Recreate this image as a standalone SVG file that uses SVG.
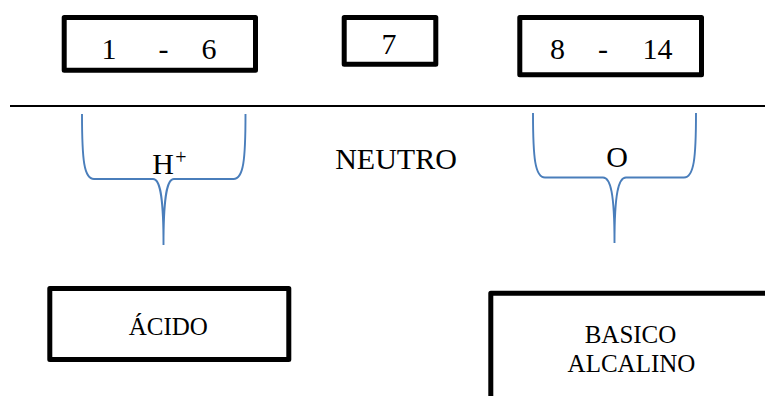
<svg xmlns="http://www.w3.org/2000/svg" width="765" height="396" viewBox="0 0 765 396">
  <style>
    .box { fill: #ffffff; stroke: #000000; stroke-width: 5; stroke-linejoin: round; }
    .rule { stroke: #000000; stroke-width: 2; }
    .brace { fill: none; stroke: #4a7ebb; stroke-width: 1.9; }
  </style>
  <rect width="765" height="396" fill="#ffffff"/>

  <g font-family="Liberation Serif" fill="#000000" text-anchor="middle">
    <!-- pH scale ranges -->
    <g id="range-acid" font-size="30">
      <rect class="box" x="64.2" y="17.5" width="191.3" height="52.7"/>
      <text x="109" y="59">1</text>
      <text x="163.5" y="59">-</text>
      <text x="209" y="59">6</text>
    </g>
    <g id="range-neutral" font-size="30">
      <rect class="box" x="344.2" y="17.5" width="91.6" height="46.7"/>
      <text x="389" y="54">7</text>
    </g>
    <g id="range-base" font-size="30">
      <rect class="box" x="519.8" y="17.5" width="181.7" height="57.3"/>
      <text x="557.5" y="59">8</text>
      <text x="603" y="59">-</text>
      <text x="657.5" y="59">14</text>
    </g>

    <!-- connectors: scale line and braces -->
    <g id="connectors">
      <line class="rule" x1="10" y1="106" x2="765" y2="106"/>
      <path class="brace" d="M82,114 C82,160 84,179 94,179 L153,179 C160,179 163.5,195 163.5,245 M245.5,114 C245.5,160 243.5,179 233.5,179 L174,179 C167,179 163.5,195 163.5,245"/>
      <path class="brace" d="M533,113 C533,158 535,177.5 545,177.5 L603,177.5 C610.5,177.5 614.5,193 614.5,243 M696,113 C696,158 694,177.5 684,177.5 L626,177.5 C618.5,177.5 614.5,193 614.5,243"/>
    </g>

    <!-- ion labels -->
    <g id="label-h">
      <text x="163" y="173.5" font-size="30">H</text>
      <text x="181" y="163.5" font-size="20">+</text>
    </g>
    <g id="label-neutro" font-size="30">
      <text x="396" y="169">NEUTRO</text>
    </g>
    <g id="label-o" font-size="30">
      <text x="617" y="166.7">O</text>
    </g>

    <!-- result boxes -->
    <g id="acido" font-size="25">
      <rect class="box" x="49.8" y="288.5" width="239" height="71"/>
      <text x="168.3" y="335">ÁCIDO</text>
    </g>
    <g id="basico" font-size="25">
      <rect class="box" x="490.8" y="293.3" width="290" height="130"/>
      <text x="630.5" y="343.3">BASICO</text>
      <text x="631.5" y="371.7">ALCALINO</text>
    </g>
  </g>
</svg>
